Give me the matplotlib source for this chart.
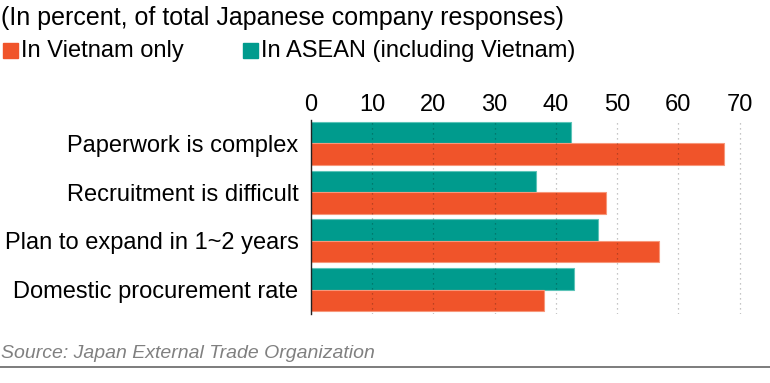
import numpy as np
import matplotlib
matplotlib.use("Agg")
import matplotlib.pyplot as plt
from matplotlib.patches import Rectangle
from matplotlib.lines import Line2D

plt.rcParams['font.family'] = ['Liberation Sans', 'DejaVu Sans']

categories = ["Paperwork is complex", "Recruitment is difficult",
              "Plan to expand in 1~2 years", "Domestic procurement rate"]
vietnam = [67.5, 48.2, 56.9, 38.0]
asean = [42.4, 36.8, 46.8, 42.9]
ticks = [0, 10, 20, 30, 40, 50, 60, 70]

orange = "#F0542A"
teal = "#009B8D"

fig = plt.figure(figsize=(7.7, 3.83), dpi=100)
ax = fig.add_axes([311/770, 69/383, 447/770, 194/383])

y = np.arange(len(categories))
h = 0.44
ax.barh(y - h/2, asean, height=h, color=teal, edgecolor="#5cc4b8", linewidth=0.8, zorder=2)
ax.barh(y + h/2, vietnam, height=h, color=orange, edgecolor="#f7977a", linewidth=0.8, zorder=2)

ax.set_ylim(len(categories) - 0.5 + 0.0, -0.5 + 0.02)
ax.set_xlim(0, 73)
ax.set_xticks(ticks)
ax.xaxis.tick_top()
ax.tick_params(axis="x", length=0, pad=3, labelsize=17)
ax.set_yticks(y)
ax.set_yticklabels(categories)
ax.tick_params(axis="y", length=0, pad=9, labelsize=17)
ax.grid(axis="x", linestyle=(0, (1, 3)), color="black", alpha=0.3, linewidth=0.9, zorder=3)
ax.set_axisbelow(False)
for s in ["top", "right", "bottom"]:
    ax.spines[s].set_visible(False)
ax.spines["left"].set_color("#222222")
ax.spines["left"].set_linewidth(1)
ax.spines["left"].set_zorder(4)

fig.text(1/770, 1 - 18/383, "(In percent, of total Japanese company responses)",
         fontsize=18, va="center", ha="left")

# legend
fig.patches.append(Rectangle((3/770, 1 - 58/383), 15/770, 15/383, color=orange, transform=fig.transFigure))
fig.text(21/770, 1 - 51/383, "In Vietnam only", fontsize=17, va="center", ha="left")
fig.patches.append(Rectangle((243/770, 1 - 58/383), 15/770, 15/383, color=teal, transform=fig.transFigure))
fig.text(261/770, 1 - 51/383, "In ASEAN (including Vietnam)", fontsize=17, va="center", ha="left")

fig.text(1/770, 1 - 354/383, "Source: Japan External Trade Organization",
         fontsize=14, style="italic", color="#808080", va="center", ha="left")
fig.lines.append(Line2D([0, 1], [1 - 367/383, 1 - 367/383], color="#666666", linewidth=1.2,
                        transform=fig.transFigure))

fig.savefig("out.png", dpi=100)
